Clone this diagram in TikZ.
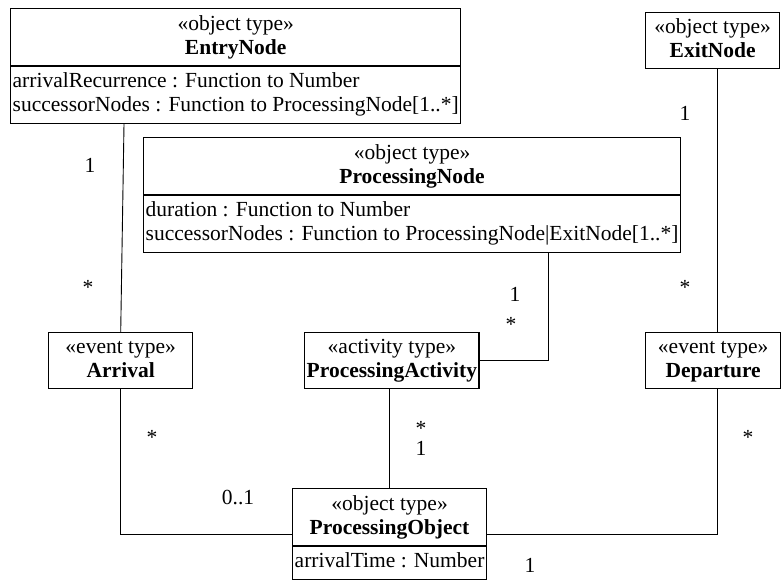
\documentclass[tikz,border=0pt]{standalone}
\usepackage{fontspec}
\setmainfont{Liberation Serif}
\usetikzlibrary{calc, shapes.multipart}
\newcommand{\umlhead}[2]{\begin{tabular}{@{}c@{}}«#1»\\\textbf{#2}\end{tabular}}
\newcommand{\umlattr}[1]{\begin{tabular}{@{}l@{}}#1\end{tabular}}

\begin{document}
\begin{tikzpicture}[
        x=1pt, y=-1pt,
        every node/.style={font=\fontsize{21.5}{24}\selectfont},
        objtype/.style={rectangle split, rectangle split parts=2, rectangle split part align={center, left}, draw, line width=1.4pt, inner xsep=2pt, inner ysep=4pt, anchor=north west},
        evttype/.style={rectangle, draw, line width=1.4pt, inner xsep=2pt, inner ysep=4pt, anchor=north west},
        mult/.style={inner sep=0pt},
        assoc/.style={line width=0.9pt}
    ]
        \useasboundingbox (0,0) rectangle (781,579);

        \node[objtype] (entry) at (10,8) {\umlhead{object type}{EntryNode}
            \nodepart{two}\umlattr{arrivalRecurrence : Function to Number\\successorNodes : Function to ProcessingNode[1..*]}};
        \node[evttype, minimum width=134pt] (exit) at (645,12) {\umlhead{object type}{ExitNode}};
        \node[objtype] (procnode) at (143,137) {\umlhead{object type}{ProcessingNode}
            \nodepart{two}\umlattr{duration : Function to Number\\successorNodes : Function to ProcessingNode|ExitNode[1..*]}};
        \node[evttype, minimum width=144pt] (arrival) at (48,332) {\umlhead{event type}{Arrival}};
        \node[evttype] (activity) at (304,332) {\umlhead{activity type}{ProcessingActivity}};
        \node[evttype, minimum width=135pt] (departure) at (645,332) {\umlhead{event type}{Departure}};
        \node[objtype] (object) at (292,488) {\umlhead{object type}{ProcessingObject}
            \nodepart{two}\umlattr{arrivalTime : Number}};

        \draw[assoc] ($(entry.south west)+(114,0)$) -- (arrival.north);
        \draw[assoc] ($(exit.south west)+(72,0)$) -- ($(departure.north west)+(72,0)$);
        \draw[assoc] ($(procnode.south west)+(405,0)$) |- (activity.east);
        \draw[assoc] (arrival.south) |- (object.west);
        \draw[assoc] (object.north) -- (object.north |- activity.south);
        \draw[assoc] ($(departure.south west)+(72,0)$) |- (object.east);

        \node[mult] (e1) at (90,165) {1};
        \node[mult] (e2) at (88,287) {*};
        \node[mult] (x1) at (685,113) {1};
        \node[mult] (x2) at (685,287) {*};
        \node[mult] (p1) at (515,294) {1};
        \node[mult] (p2) at (511,324) {*};
        \node[mult] (a1) at (152,437) {*};
        \node[mult] (a2) at (238,497) {0..1};
        \node[mult] (c1) at (421,428) {*};
        \node[mult] (c2) at (421,448) {1};
        \node[mult] (d1) at (748,437) {*};
        \node[mult] (d2) at (530,565) {1};
    \end{tikzpicture}
\end{document}
